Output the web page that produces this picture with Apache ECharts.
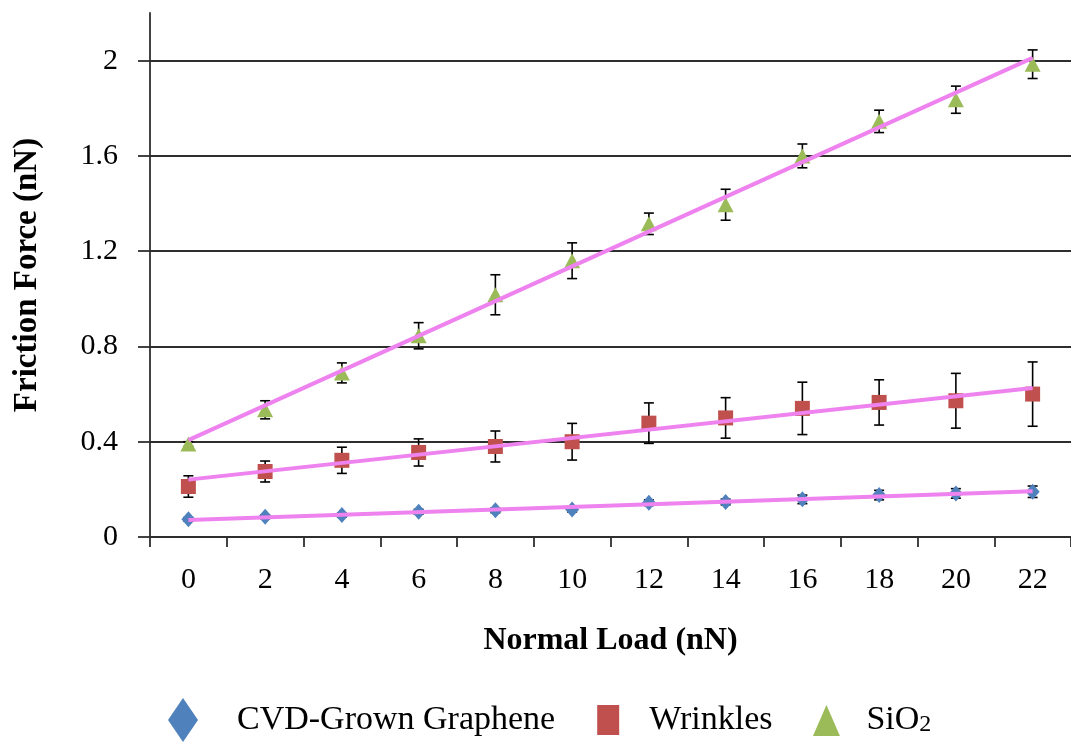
<!DOCTYPE html>
<html>
<head>
<meta charset="utf-8">
<title>Friction Force vs Normal Load</title>
<script src="https://cdn.jsdelivr.net/npm/echarts@6/dist/echarts.min.js"></script>
<style>
  html, body { margin: 0; padding: 0; background: #ffffff; }
  #chart { width: 1071px; height: 742px; }
</style>
</head>
<body>
<div id="chart"></div>
<script>
// Normal load categories (nN)
const loads = ['0', '2', '4', '6', '8', '10', '12', '14', '16', '18', '20', '22'];

// Friction force (nN) and error bar half-widths per surface
const graphene    = [0.074, 0.085, 0.092, 0.106, 0.112, 0.115, 0.144, 0.147, 0.158, 0.176, 0.183, 0.190];
const grapheneErr = [0.008, 0.008, 0.008, 0.010, 0.010, 0.010, 0.012, 0.012, 0.018, 0.020, 0.020, 0.024];
const wrinkles    = [0.212, 0.275, 0.322, 0.355, 0.380, 0.400, 0.478, 0.500, 0.540, 0.565, 0.572, 0.600];
const wrinklesErr = [0.045, 0.044, 0.055, 0.057, 0.065, 0.077, 0.085, 0.085, 0.110, 0.095, 0.115, 0.135];
const sio2        = [0.390, 0.534, 0.689, 0.845, 1.017, 1.160, 1.315, 1.395, 1.600, 1.745, 1.836, 1.985];
const sio2Err     = [0.010, 0.038, 0.042, 0.055, 0.084, 0.075, 0.045, 0.065, 0.050, 0.047, 0.057, 0.060];

// Y axis tick values
const yTicks = [0, 0.4, 0.8, 1.2, 1.6, 2];

const names = ['CVD-Grown Graphene', 'Wrinkles', 'SiO2'];
const colors = ['#4F81BD', '#C0504D', '#9BBB59'];
const FONT = "'Liberation Serif', 'Times New Roman', serif";
const AXIS_COLOR = '#2e2e2e';

// Legend icons share one 44x44 frame (corner moves fix the bounds)
const FRAME = 'M0,0M44,44';
const legendIcons = [
  'path://' + FRAME + 'M15,0L30,22L15,44L0,22Z',
  'path://' + FRAME + 'M17,7L39,7L39,37L17,37Z',
  'path://' + FRAME + 'M29,7L42.5,38L15.5,38Z'
];

// Least-squares linear trendline, returned as its two end points
function trendline(values) {
  const xs = loads.map(Number);
  const n = xs.length;
  const mx = xs.reduce((a, b) => a + b, 0) / n;
  const my = values.reduce((a, b) => a + b, 0) / n;
  let sxy = 0, sxx = 0;
  for (let i = 0; i < n; i++) {
    sxy += (xs[i] - mx) * (values[i] - my);
    sxx += (xs[i] - mx) * (xs[i] - mx);
  }
  const slope = sxy / sxx;
  const icpt = my - slope * mx;
  return [[0, icpt + slope * xs[0]], [n - 1, icpt + slope * xs[n - 1]]];
}

// Vertical error bar with caps
function errorBarItem(params, api) {
  const i = api.value(0), v = api.value(1), e = api.value(2);
  const top = api.coord([i, v + e]);
  const bot = api.coord([i, v - e]);
  const hw = 5;
  const st = { stroke: '#000000', lineWidth: 1.6 };
  return {
    type: 'group',
    children: [
      { type: 'line', shape: { x1: top[0], y1: top[1], x2: bot[0], y2: bot[1] }, style: st },
      { type: 'line', shape: { x1: top[0] - hw, y1: top[1], x2: top[0] + hw, y2: top[1] }, style: st },
      { type: 'line', shape: { x1: bot[0] - hw, y1: bot[1], x2: bot[0] + hw, y2: bot[1] }, style: st }
    ]
  };
}

const sets = [
  { vals: graphene, errs: grapheneErr, symbol: 'diamond', size: [14, 16] },
  { vals: wrinkles, errs: wrinklesErr, symbol: 'rect', size: [15, 15] },
  { vals: sio2, errs: sio2Err, symbol: 'triangle', size: [16, 15] }
];

const series = [];
sets.forEach((s, k) => {
  series.push({
    type: 'custom',
    name: names[k] + ' error',
    renderItem: errorBarItem,
    data: s.vals.map((v, i) => [i, v, s.errs[i]]),
    z: 2,
    silent: true
  });
});
sets.forEach((s, k) => {
  series.push({
    type: 'line',
    name: names[k],
    data: s.vals,
    symbol: s.symbol,
    symbolSize: s.size,
    showAllSymbol: true,
    lineStyle: { width: 0, opacity: 0 },
    itemStyle: { color: colors[k] },
    z: 3
  });
});
sets.forEach((s, k) => {
  series.push({
    type: 'line',
    name: names[k] + ' trend',
    data: trendline(s.vals),
    symbol: 'none',
    lineStyle: { color: '#EE82EE', width: 4 },
    z: 4,
    silent: true
  });
});

const chart = echarts.init(document.getElementById('chart'), null, { renderer: 'canvas' });
chart.setOption({
  backgroundColor: '#ffffff',
  animation: false,
  textStyle: { fontFamily: FONT, color: '#000000' },
  grid: { left: 150, top: 13, width: 925, height: 524, containLabel: false },
  legend: {
    data: names.map((n, k) => ({ name: n, icon: legendIcons[k] })),
    left: 163,
    top: 693,
    itemWidth: 44,
    itemHeight: 44,
    itemGap: 25,
    formatter: name => (name === 'SiO2' ? 'SiO{sub|2}' : name),
    textStyle: {
      fontFamily: FONT, fontSize: 34, color: '#000000',
      padding: [0, 0, 0, 20],
      rich: { sub: { fontFamily: FONT, fontSize: 24, color: '#000000', verticalAlign: 'bottom' } }
    }
  },
  xAxis: {
    type: 'category',
    data: loads,
    boundaryGap: true,
    name: 'Normal Load (nN)',
    nameLocation: 'middle',
    nameGap: 88,
    nameTextStyle: { fontFamily: FONT, fontSize: 32, fontWeight: 'bold', color: '#000000' },
    axisLine: { lineStyle: { color: AXIS_COLOR, width: 1.8 } },
    axisTick: { show: true, length: 10, alignWithLabel: false, lineStyle: { color: AXIS_COLOR, width: 1.8 } },
    axisLabel: { fontFamily: FONT, fontSize: 30, color: '#000000', margin: 28 },
    splitLine: { show: false }
  },
  yAxis: {
    type: 'value',
    min: 0,
    max: 2.2,
    interval: 0.4,
    name: 'Friction Force (nN)',
    nameLocation: 'middle',
    nameGap: 106,
    nameRotate: 90,
    nameTextStyle: { fontFamily: FONT, fontSize: 33, fontWeight: 'bold', color: '#000000' },
    axisLine: { show: true, lineStyle: { color: AXIS_COLOR, width: 1.8 } },
    axisTick: { show: true, length: 12, customValues: yTicks, lineStyle: { color: AXIS_COLOR, width: 1.8 } },
    axisLabel: {
      fontFamily: FONT, fontSize: 30, color: '#000000', margin: 32,
      customValues: yTicks,
      formatter: v => String(Math.round(v * 10) / 10)
    },
    splitLine: { show: true, lineStyle: { color: AXIS_COLOR, width: 1.8 } }
  },
  series: series
});
</script>
</body>
</html>
